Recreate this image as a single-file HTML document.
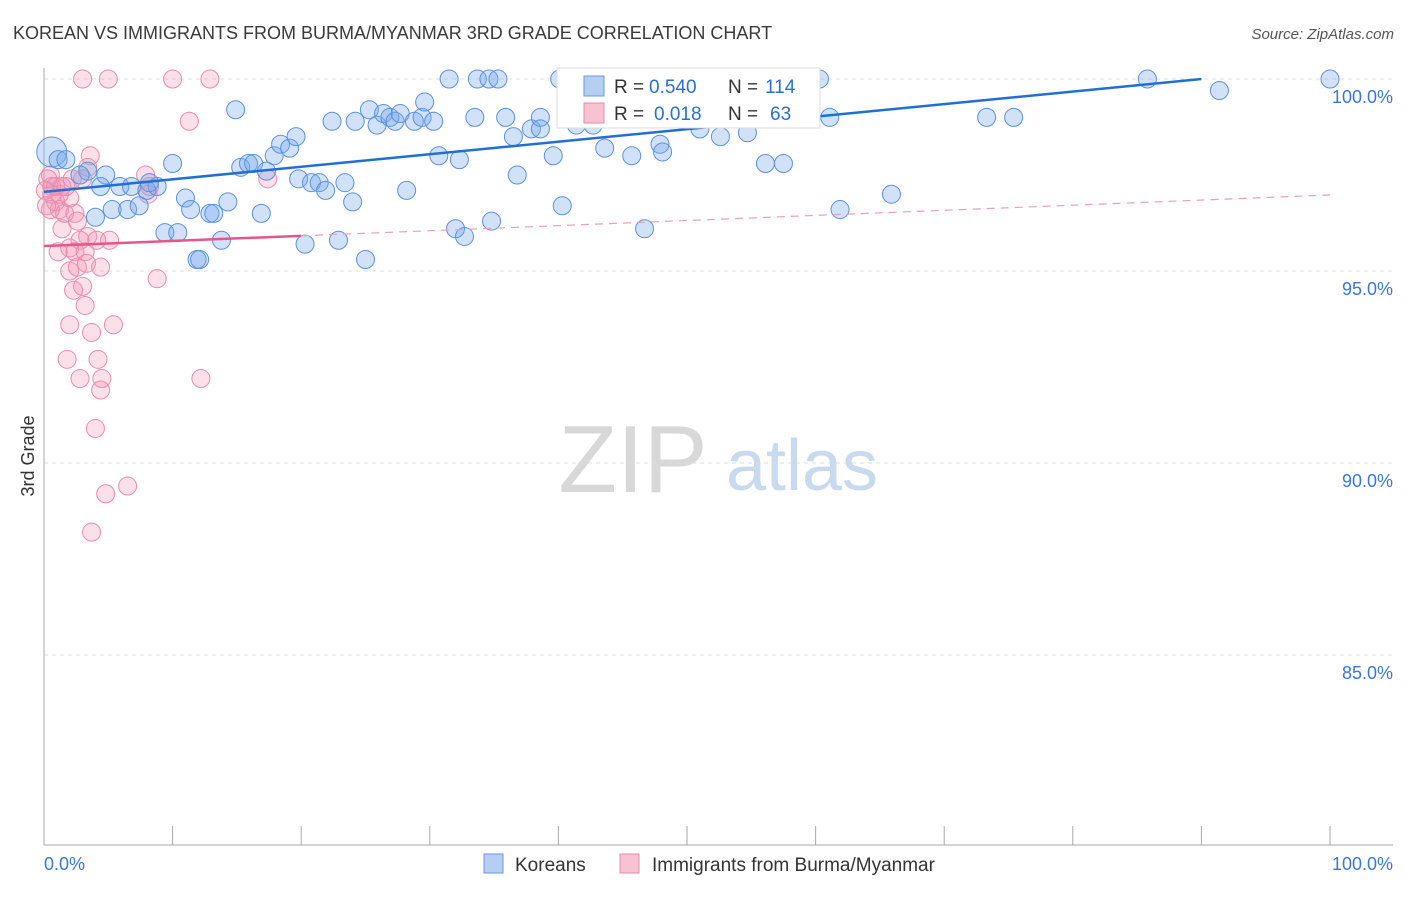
<!DOCTYPE html>
<html><head><meta charset="utf-8"><style>
body{margin:0;background:#fff;font-family:"Liberation Sans",sans-serif;}
svg text{font-family:"Liberation Sans",sans-serif;}
</style></head><body>
<svg id="chart" width="1406" height="892" xmlns="http://www.w3.org/2000/svg">
<text x="13" y="39" font-size="18" fill="#3a3a3a">KOREAN VS IMMIGRANTS FROM BURMA/MYANMAR 3RD GRADE CORRELATION CHART</text>
<text x="1394" y="39" font-size="15" fill="#555" text-anchor="end" font-style="italic">Source: ZipAtlas.com</text>
<g>
<text x="633" y="492" font-size="96" fill="#d8d8d8" text-anchor="middle" font-family="Liberation Serif, serif">ZIP</text>
<text x="802" y="490" font-size="72" fill="#c8daf0" text-anchor="middle">atlas</text>
</g>
<g id="grid"></g>
<g id="axes"></g>
<g id="points"></g>
<g id="lines"></g>
<text transform="translate(34,456) rotate(-90)" font-size="18" fill="#333" text-anchor="middle">3rd Grade</text>
<g font-size="19">
<rect x="557" y="68" width="263" height="60" fill="#fff" stroke="#ddd"/>
<rect x="584" y="76" width="20" height="20" fill="#b5cff2" stroke="#6a9ae0"/>
<rect x="584" y="103" width="20" height="20" fill="#f7c3d3" stroke="#e88aaa"/>
<text x="614" y="93" fill="#333">R =</text>
<text x="649" y="93" fill="#2a6fd6">0.540</text>
<text x="728" y="93" fill="#333">N =</text>
<text x="765" y="93" fill="#2a6fd6">114</text>
<text x="614" y="120" fill="#333">R =</text>
<text x="654" y="120" fill="#2a6fd6">0.018</text>
<text x="728" y="120" fill="#333">N =</text>
<text x="770" y="120" fill="#2a6fd6">63</text>
</g>
<g>
<rect x="484" y="854" width="19" height="19" fill="#b5cff2" stroke="#6a9ae0"/>
<text x="515" y="871" font-size="19" fill="#333">Koreans</text>
<rect x="620" y="854" width="19" height="19" fill="#f7c3d3" stroke="#e88aaa"/>
<text x="652" y="871" font-size="19" fill="#333">Immigrants from Burma/Myanmar</text>
</g>
</svg>
<script>
const yTicks=[100,95,90,85];
const yTickLabels=["100.0%","95.0%","90.0%","85.0%"];
const xTicks=[0,10,20,30,40,50,60,70,80,90,100];
const blueX=[0.6,1.1,1.7,3.4,4.8,4.4,2.8,4.0,5.3,5.9,6.5,6.8,7.4,8.0,8.8,8.2,9.4,10.0,10.4,11.0,11.4,11.9,12.1,12.9,13.2,13.8,14.3,14.9,15.3,15.9,16.3,16.9,17.3,17.9,18.4,19.1,19.6,19.8,20.3,20.8,21.4,21.9,22.4,22.9,23.4,24.0,24.2,25.0,25.3,25.9,26.4,26.9,27.3,27.7,28.2,28.8,29.4,29.6,30.3,30.7,31.5,32.0,32.3,32.7,33.5,33.7,34.6,35.3,34.8,35.9,36.5,36.8,37.9,38.6,38.6,39.6,40.1,40.3,41.4,42.7,43.6,45.7,46.7,47.0,47.9,48.1,51.0,52.6,54.7,56.1,57.5,58.8,60.3,61.1,61.9,65.9,73.3,75.4,85.8,91.4,100];
const blueY=[98.1,97.9,97.9,97.6,97.5,97.2,97.5,96.4,96.6,97.2,96.6,97.2,96.7,97.1,97.2,97.3,96.0,97.8,96.0,96.9,96.6,95.3,95.3,96.5,96.5,95.8,96.8,99.2,97.7,97.8,97.8,96.5,97.6,98.0,98.3,98.2,98.5,97.4,95.7,97.3,97.3,97.1,98.9,95.8,97.3,96.8,98.9,95.3,99.2,98.8,99.1,99.0,98.9,99.1,97.1,98.9,99.0,99.4,98.9,98.0,100,96.1,97.9,95.9,99.0,100,100,100,96.3,99.0,98.5,97.5,98.7,99.0,98.7,98.0,100,96.7,98.8,98.8,98.2,98.0,96.1,100,98.3,98.1,98.7,98.5,98.6,97.8,97.8,99.1,100,99.0,96.6,97.0,99.0,99.0,100,99.7,100];
const pinkX=[3.0,5.0,10.0,12.9,11.3,3.6,3.4,3.0,7.9,8.2,8.1,17.4,0.5,0.6,0.9,0.5,1.2,1.6,0.9,1.4,2.0,2.4,0.6,0.3,2.6,1.4,3.4,2.0,2.8,4.1,5.1,1.1,2.4,3.2,2.0,2.6,3.3,4.4,8.8,2.3,3.0,3.2,2.0,5.4,3.7,1.8,4.2,2.8,4.5,4.4,12.2,4.0,4.8,6.5,3.7,1.2,1.7,2.2,0.1,0.2];
const pinkY=[100,100,100,100,98.9,98.0,97.7,97.4,97.5,97.2,97.0,97.4,97.5,97.2,96.8,96.6,96.6,96.5,97.2,97.2,96.9,96.5,97.0,97.4,96.3,96.1,95.9,95.6,95.8,95.8,95.8,95.5,95.5,95.5,95.0,95.1,95.2,95.1,94.8,94.5,94.6,94.1,93.6,93.6,93.4,92.7,92.7,92.2,92.2,91.9,92.2,90.9,89.2,89.4,88.2,97.0,97.2,97.4,97.1,96.7];
const blueTrend=[97.06,100.0];   // at x=0 and x=90
const pinkTrend=[95.65,96.98];   // at x=0 and x=100
const NS="http://www.w3.org/2000/svg";
const X=v=>44+v*12.86;
const Y=v=>79+(100-v)*38.4;
function mk(tag,attrs,parent){const e=document.createElementNS(NS,tag);for(const k in attrs)e.setAttribute(k,attrs[k]);document.getElementById(parent).appendChild(e);return e;}
yTicks.forEach((t,i)=>{
 const g=mk('line',{x1:44,x2:1393,y1:Y(t),y2:Y(t),stroke:'#ddd','stroke-dasharray':'4,4'},'grid');
 
 
 const l=mk('text',{x:1393,y:Y(t)+24,'font-size':18,fill:'#3a78d8','text-anchor':'end'},'axes');
 l.textContent=yTickLabels[i];
 
 
});
const ax=mk('line',{x1:44,x2:44,y1:68,y2:845,stroke:'#aaa'},'axes');


const bx=mk('line',{x1:44,x2:1393,y1:845,y2:845,stroke:'#aaa'},'axes');


xTicks.forEach(t=>{
 const tk=mk('line',{x1:X(t),x2:X(t),y1:826,y2:845,stroke:'#aaa'},'axes');
 
 
});
const xl0=mk('text',{x:44,y:870,'font-size':18,fill:'#3a78d8'},'axes');xl0.textContent='0.0%';


const xl1=mk('text',{x:1393,y:870,'font-size':18,fill:'#3a78d8','text-anchor':'end'},'axes');xl1.textContent='100.0%';


pinkX.forEach((v,i)=>{
 const c=mk('circle',{cx:X(v),cy:Y(pinkY[i]),r:9,fill:'rgba(242,150,182,0.3)',stroke:'#e98cac','stroke-width':1},'points');
 
 
});
blueX.forEach((v,i)=>{
 const c=mk('circle',{cx:X(v),cy:Y(blueY[i]),r:i==0?15:9,fill:'rgba(120,170,235,0.35)',stroke:'#5b92dc','stroke-width':1},'points');
 
 
});
const bl=mk('line',{x1:X(0),y1:Y(blueTrend[0]),x2:X(90),y2:Y(blueTrend[1]),stroke:'#1f6fd6','stroke-width':2.5},'lines');


const pAt=x=>pinkTrend[0]+(pinkTrend[1]-pinkTrend[0])*x/100;
const pl=mk('line',{x1:X(0),y1:Y(pAt(0)),x2:X(20),y2:Y(pAt(20)),stroke:'#e8558a','stroke-width':2.5},'lines');


const pd=mk('line',{x1:X(20),y1:Y(pAt(20)),x2:X(100),y2:Y(pAt(100)),stroke:'#eaa0b8','stroke-width':1.2,'stroke-dasharray':'8,6'},'lines');


</script>
</body></html>
